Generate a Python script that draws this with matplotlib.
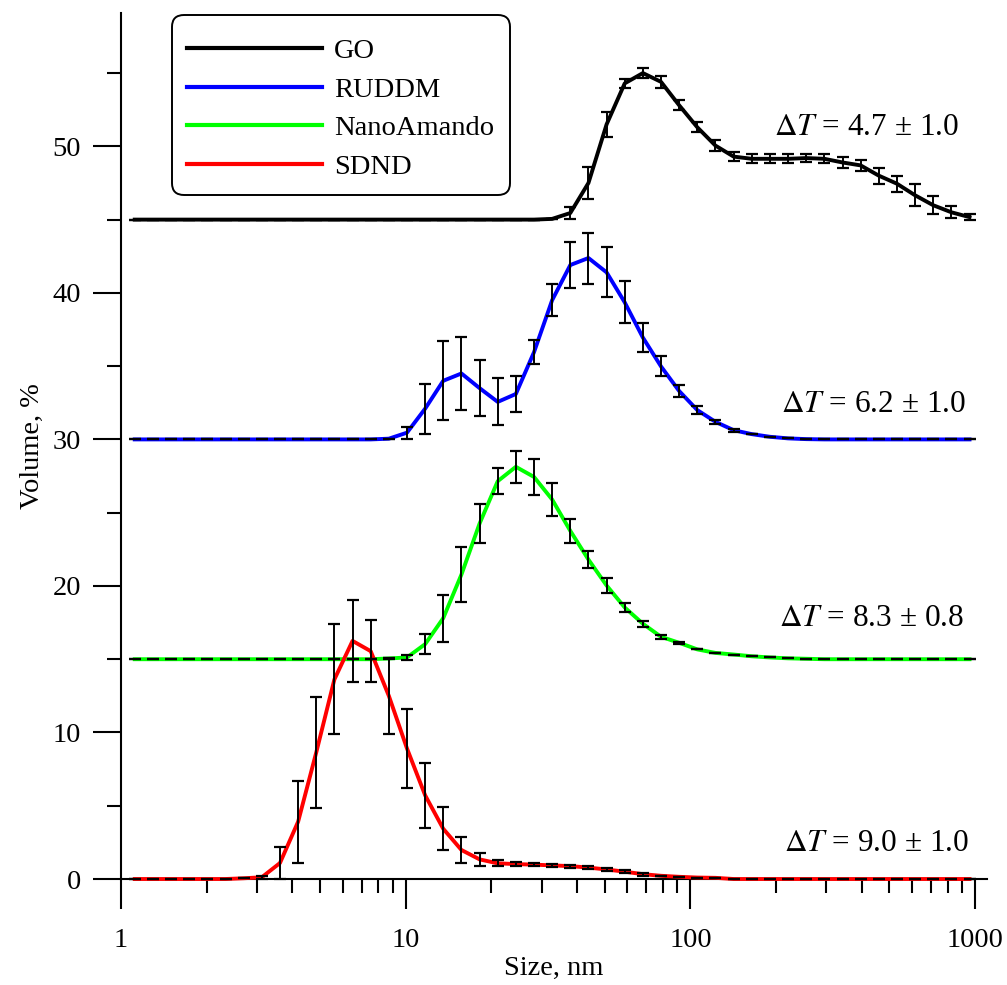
import matplotlib
matplotlib.use("Agg")
import matplotlib.pyplot as plt
from matplotlib.patches import FancyBboxPatch
from matplotlib.ticker import FixedLocator, LogLocator, NullFormatter

# size classes of the DLS instrument, nm
size_nm = [1.117, 1.294, 1.499, 1.736, 2.01, 2.328, 2.696, 3.122, 3.615, 4.187,
           4.849, 5.615, 6.503, 7.531, 8.721, 10.1, 11.7, 13.54, 15.69, 18.17,
           21.04, 24.36, 28.21, 32.67, 37.84, 43.82, 50.75, 58.77, 68.06, 78.82,
           91.28, 105.7, 122.4, 141.8, 164.2, 190.1, 220.2, 255.0, 295.3, 342.0,
           396.1, 458.7, 531.2, 615.1, 712.4, 825.0, 955.4]

# volume distributions, %
go_vol = [0] * 23 + [0.05, 0.45, 2.5, 6.5, 9.3, 10.0, 9.4, 7.8, 6.3, 5.05, 4.3,
                     4.15, 4.15, 4.15, 4.2, 4.15, 3.9, 3.7, 3.0, 2.45, 1.66, 0.98,
                     0.5, 0.17]
go_err = [0] * 24 + [0.4, 1.1, 0.87, 0.3, 0.35, 0.4, 0.35, 0.35, 0.35, 0.3, 0.3,
                     0.3, 0.3, 0.3, 0.3, 0.35, 0.4, 0.55, 0.55, 0.75, 0.6, 0.4, 0.2]

ruddm_vol = [0] * 14 + [0.05, 0.46, 2.1, 4.0, 4.5, 3.5, 2.56, 3.1, 5.95, 9.5, 11.9,
                        12.38, 11.4, 9.35, 6.95, 4.98, 3.3, 2.0, 1.2, 0.63, 0.36,
                        0.18, 0.07, 0.02] + [0] * 9
ruddm_err = [0] * 15 + [0.4, 1.7, 2.7, 2.5, 1.9, 1.6, 1.24, 0.83, 1.1, 1.57, 1.74,
                        1.7, 1.43, 1.0, 0.68, 0.43, 0.27, 0.15, 0.1] + [0] * 13

nano_vol = [0] * 14 + [0.05, 0.12, 1.03, 2.8, 5.78, 9.26, 12.15, 13.13, 12.44, 10.9,
                       8.76, 6.8, 5.03, 3.53, 2.42, 1.53, 1.12, 0.67, 0.43, 0.32,
                       0.2, 0.12, 0.06, 0.03] + [0] * 9
nano_err = [0] * 14 + [0.05, 0.15, 0.68, 1.6, 1.9, 1.3, 0.88, 1.08, 1.2, 1.14, 0.8,
                       0.6, 0.48, 0.33, 0.2, 0.12, 0.08] + [0] * 16

sdnd_vol = [0] * 6 + [0.05, 0.12, 1.09, 3.91, 8.64, 13.62, 16.25, 15.55, 12.5, 8.91,
                      5.71, 3.43, 1.98, 1.34, 1.07, 1.02, 0.98, 0.93, 0.88, 0.78,
                      0.65, 0.5, 0.33, 0.22, 0.15, 0.1, 0.08] + [0] * 14
sdnd_err = [0] * 7 + [0.1, 1.1, 2.8, 3.8, 3.75, 2.8, 2.1, 2.6, 2.7, 2.24, 1.46, 0.86,
                      0.45, 0.2, 0.15, 0.1, 0.1, 0.1, 0.1, 0.1, 0.12, 0.1] + [0] * 18

names = ["GO", "RUDDM", "NanoAmando", "SDND"]
offsets = [45, 30, 15, 0]
delta_t = [r"$\Delta T$ = 4.7 ± 1.0", r"$\Delta T$ = 6.2 ± 1.0",
           r"$\Delta T$ = 8.3 ± 0.8", r"$\Delta T$ = 9.0 ± 1.0"]

plt.rcParams["font.family"] = ["Liberation Serif", "DejaVu Serif"]
plt.rcParams["mathtext.fontset"] = "stix"

series = [(go_vol, go_err), (ruddm_vol, ruddm_err), (nano_vol, nano_err), (sdnd_vol, sdnd_err)]
colors = ["black", "#0000ff", "#00ff00", "#ff0000"]
label_pos = [(880, 51.3), (930, 32.4), (912, 17.8), (950, 2.4)]

W, H = 1007, 985
fig = plt.figure(figsize=(W / 100, H / 100), dpi=100)
ax = fig.add_axes([0.1202, 0.1076, 0.8599, 0.8792])

for (vol, err), off, col, name, txt, (tx, ty) in zip(series, offsets, colors, names,
                                                      delta_t, label_pos):
    y = [v + off for v in vol]
    ax.plot(size_nm, y, color=col, lw=2.8, label=name, zorder=3, clip_on=False)
    ax.errorbar(size_nm, y, yerr=err, fmt="none", ecolor="black", elinewidth=1.4,
                capsize=4.4, capthick=1.6, zorder=4, clip_on=False)
    ax.text(tx, ty, txt, ha="right", va="center", fontsize=22.5)

ax.set_xscale("log")
ax.set_xlim(1, 1100)
ax.set_ylim(0, 59.1)

ax.xaxis.set_major_locator(FixedLocator([1, 10, 100, 1000]))
ax.set_xticklabels(["1", "10", "100", "1000"])
ax.xaxis.set_minor_locator(LogLocator(base=10, subs=range(2, 10)))
ax.xaxis.set_minor_formatter(NullFormatter())
ax.set_yticks([0, 10, 20, 30, 40, 50])
ax.set_yticks([5, 15, 25, 35, 45, 55], minor=True)

for s in ("top", "right"):
    ax.spines[s].set_visible(False)
for s in ("left", "bottom"):
    ax.spines[s].set_linewidth(1.5)

ax.tick_params(axis="x", which="major", direction="out", length=21.6, width=1.5,
               labelsize=20.5, pad=14)
ax.tick_params(axis="x", which="minor", direction="out", length=10, width=1.5)
ax.tick_params(axis="y", which="major", direction="out", length=20, width=1.5,
               labelsize=20.5, pad=9)
ax.tick_params(axis="y", which="minor", direction="out", length=10, width=1.5)

ax.set_xlabel("Size, nm", fontsize=20.5, labelpad=2)
ax.set_ylabel("Volume, %", fontsize=20.5, labelpad=5)

# rounded frame of the legend, drawn separately for its uneven padding
frame = FancyBboxPatch((172 / W, 1 - 195 / H), 338 / W, 180 / H,
                       boxstyle="round,pad=0,rounding_size=0.012",
                       transform=fig.transFigure, facecolor="white",
                       edgecolor="black", linewidth=1.4, zorder=5, clip_on=False)
ax.add_patch(frame)

leg = ax.legend(loc="center left", bbox_to_anchor=(178 / W, 1 - 109 / H),
                bbox_transform=fig.transFigure, borderaxespad=0, borderpad=0.3,
                fontsize=20.5, handlelength=4.75, handletextpad=0.42,
                labelspacing=0.44, frameon=False)
leg.set_zorder(6)
for h in leg.get_lines():
    h.set_linewidth(3.0)

fig.savefig("out.png", dpi=100)
